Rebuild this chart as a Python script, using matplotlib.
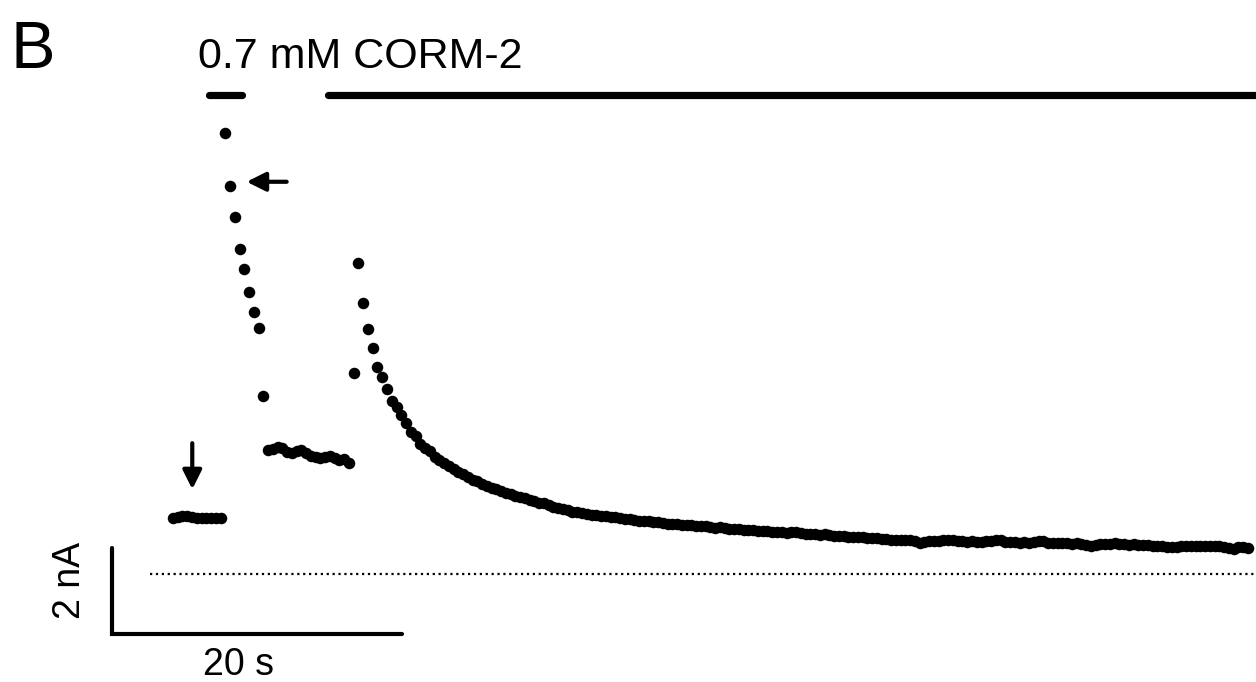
import matplotlib
matplotlib.use("Agg")
import matplotlib.pyplot as plt
import numpy as np

plt.rcParams['font.family'] = ['Liberation Sans', 'DejaVu Sans']

# sampled whole-cell current (nA), one point every sample_dt seconds
sample_dt = 0.328
current = [
    # control
    1.30, 1.31, 1.34, 1.33, 1.31, 1.30, 1.30, 1.29, 1.29, 1.29, 1.28,
    # first CORM-2 pulse
    10.24, 9.00, 8.28, 7.55, 7.07, 6.55, 6.09, 5.70, 4.13,
    # wash
    2.87, 2.90, 2.94, 2.92, 2.83, 2.80, 2.85, 2.87, 2.80, 2.73, 2.71, 2.69,
    2.71, 2.73, 2.69, 2.64, 2.66, 2.57,
    # second application
    4.67, 7.21, 6.30, 5.68, 5.25, 4.81, 4.57, 4.28, 4.02, 3.88, 3.69, 3.49,
    3.30, 3.20, 3.01, 2.91, 2.85, 2.72, 2.64, 2.58, 2.50,
    2.44, 2.36, 2.31, 2.24, 2.18, 2.14, 2.09, 2.04, 2.00, 1.97, 1.92, 1.88,
    1.85, 1.81, 1.79, 1.75, 1.72, 1.69, 1.65, 1.63, 1.59, 1.55, 1.53, 1.49,
    1.47, 1.44, 1.42, 1.41, 1.38, 1.36, 1.35, 1.34,
    1.33, 1.31, 1.31, 1.29, 1.27, 1.27, 1.25, 1.23, 1.23, 1.21,
    1.20, 1.20, 1.18, 1.16, 1.16, 1.15, 1.13, 1.13, 1.12, 1.11,
    1.10, 1.10, 1.08, 1.06, 1.07, 1.05, 1.04, 1.04, 1.03, 1.02,
    1.01, 1.01, 0.99, 0.98, 0.99, 0.97, 0.96, 0.97, 0.95, 0.97,
    0.96, 0.94, 0.92, 0.93, 0.91, 0.90, 0.91, 0.89, 0.88, 0.87,
    0.87, 0.86, 0.85, 0.86, 0.84, 0.83, 0.83, 0.82, 0.81, 0.80,
    0.79, 0.79, 0.78, 0.77, 0.77, 0.75, 0.72, 0.73, 0.75, 0.76,
    0.76, 0.78, 0.79, 0.77, 0.75, 0.75, 0.74, 0.75, 0.74, 0.74,
    0.75, 0.76, 0.78, 0.77, 0.74, 0.73, 0.73, 0.72, 0.73, 0.72,
    0.74, 0.76, 0.75, 0.72, 0.71, 0.70, 0.71, 0.70, 0.69, 0.70,
    0.68, 0.66, 0.65, 0.67, 0.68, 0.69, 0.68, 0.70, 0.69, 0.68,
    0.67, 0.68, 0.67, 0.66, 0.66, 0.65, 0.64, 0.63, 0.62, 0.61,
    0.62, 0.63, 0.64, 0.65, 0.64, 0.63, 0.64, 0.65, 0.64, 0.63,
    0.61, 0.59, 0.58, 0.61, 0.62, 0.59,
]
time = np.arange(len(current)) * sample_dt

# drug application bars (s)
corm_on = [2.48, 10.66]
corm_off = [4.76, 80.0]

fig = plt.figure(figsize=(12.56, 6.82), dpi=100)
ax = fig.add_axes([0, 0, 1, 1])
ax.set_xlim(-11.93, 74.69)
ax.set_ylim(-2.523, 13.337)
ax.axis('off')

ax.plot(time, current, 'o', color='black', ms=8.3, mew=0)

# zero current level
ax.plot([-1.6, 80], [0, 0], color='black', ls=':', lw=1.6)

# drug bars
for on, off in zip(corm_on, corm_off):
    ax.plot([on, off], [11.13, 11.13], color='black', lw=5.2, solid_capstyle='round')
ax.text(1.7, 11.75, '0.7 mM CORM-2', fontsize=31, ha='left', va='baseline')

# arrows
arrow_style = dict(arrowstyle='-|>,head_length=0.6,head_width=0.3',
                   mutation_scale=19, lw=3, color='black',
                   shrinkA=0, shrinkB=0)
ax.annotate('', xy=(1.33, 1.96), xytext=(1.33, 3.03), arrowprops=arrow_style)
ax.annotate('', xy=(5.08, 9.11), xytext=(7.84, 9.11), arrowprops=arrow_style)

# scale bar: 20 s x 2 nA
ax.plot([-4.23, -4.23, 15.77], [0.593, -1.407, -1.407], color='black', lw=3,
        solid_capstyle='round', solid_joinstyle='miter')
ax.text(4.55, -2.13, '20 s', fontsize=27, ha='center', va='center')
ax.text(-7.1, -0.17, '2 nA', fontsize=27, ha='center', va='center', rotation=90)

fig.text(10 / 1256, 1 - 68 / 682, 'B', fontsize=48, ha='left', va='baseline')

fig.savefig('out.png', dpi=100)
